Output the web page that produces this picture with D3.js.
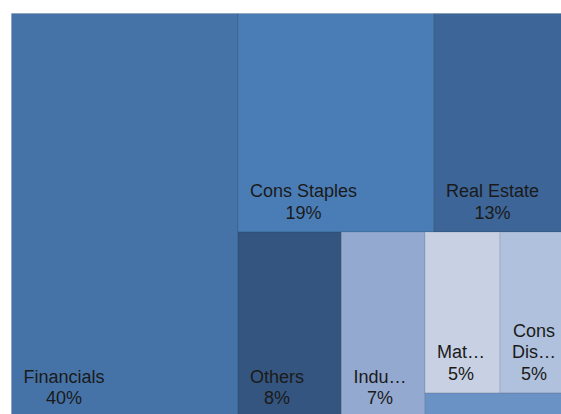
<!DOCTYPE html>
<html>
<head>
<meta charset="utf-8">
<script src="https://cdn.jsdelivr.net/npm/d3@7"></script>
<style>
  html, body { margin: 0; padding: 0; background: #ffffff; overflow: hidden; }
  svg { display: block; }
  text { font-family: Arial, "Liberation Sans", Helvetica, sans-serif; }
</style>
</head>
<body>
<svg id="chart" width="561" height="414"></svg>
<script>
// ---- data ----
const categories = ["Financials", "Cons Staples", "Real Estate", "Others", "Industrials", "Materials", "Cons Discretionary", "Utilities"];
const values     = [40.41, 18.91, 13.32, 8.48, 6.84, 5.33, 5.12, 1.59];
const colors     = ["#4573a7", "#4a7db6", "#3d6597", "#34557f", "#93a9d0", "#c8d1e4", "#b0c1dd", "#6b92c4"];

// ---- layout ----
const svg = d3.select("#chart");
const marginLeft = 11.5, marginTop = 13.5, W = 560.5, H = 404;

const leaf = i => ({ name: categories[i], value: values[i], color: colors[i] });
const tree = {
  dir: "h", children: [
    leaf(0),
    { dir: "v", children: [
      { dir: "h", children: [leaf(1), leaf(2)] },
      { dir: "h", children: [
        leaf(3), leaf(4),
        { dir: "v", children: [
          { dir: "h", children: [leaf(5), leaf(6)] },
          leaf(7)
        ]}
      ]}
    ]}
  ]
};

const total = d3.sum(values);
const root = d3.hierarchy(tree).sum(d => d.children ? 0 : d.value);
d3.treemap()
  .size([W, H])
  .round(false)
  .tile((node, x0, y0, x1, y1) =>
    (node.data.dir === "v" ? d3.treemapSlice : d3.treemapDice)(node, x0, y0, x1, y1))(root);

const g = svg.append("g").attr("transform", `translate(${marginLeft},${marginTop})`);

const cells = g.selectAll("g.cell").data(root.leaves()).join("g").attr("class", "cell");

cells.append("rect")
  .attr("x", d => d.x0).attr("y", d => d.y0)
  .attr("width", d => d.x1 - d.x0).attr("height", d => d.y1 - d.y0)
  .attr("fill", d => d.data.color)
  .attr("stroke", "rgba(0,0,0,0.10)")
  .attr("stroke-width", 1);

const fontSize = 18, lineH = 21.5, padL = 12, padB = 13.5;

cells.each(function(d) {
  const cell = d3.select(this);
  const w = d.x1 - d.x0, h = d.y1 - d.y0;
  const avail = w - 2 * padL;
  const t = cell.append("text").attr("font-size", fontSize).attr("fill", "#1a1a1a");
  const measure = s => { t.text(s); return t.node().getComputedTextLength(); };
  const fit = word => {
    if (measure(word) <= avail) return word;
    let k = word.length;
    while (k > 1 && measure(word.slice(0, k) + "…") > avail) k--;
    return word.slice(0, k) + "…";
  };
  const words = d.data.name.split(" ");
  const lines = [];
  let cur = "";
  words.forEach(wd => {
    const trial = cur ? cur + " " + wd : wd;
    if (measure(trial) <= avail) cur = trial;
    else { if (cur) lines.push(cur); cur = fit(wd); }
  });
  if (cur) lines.push(cur);
  lines.push(Math.round(d.value / total * 100) + "%");
  t.text(null);
  if (lines.length * lineH + padB > h) { t.remove(); return; }
  const maxW = d3.max(lines, s => measure(s));
  t.text(null);
  const cx = d.x0 + padL + maxW / 2;
  const lastY = d.y1 - padB;
  t.attr("text-anchor", "middle");
  lines.forEach((s, i) => {
    t.append("tspan")
      .attr("x", cx)
      .attr("y", lastY - (lines.length - 1 - i) * lineH)
      .text(s);
  });
});
</script>
</body>
</html>
